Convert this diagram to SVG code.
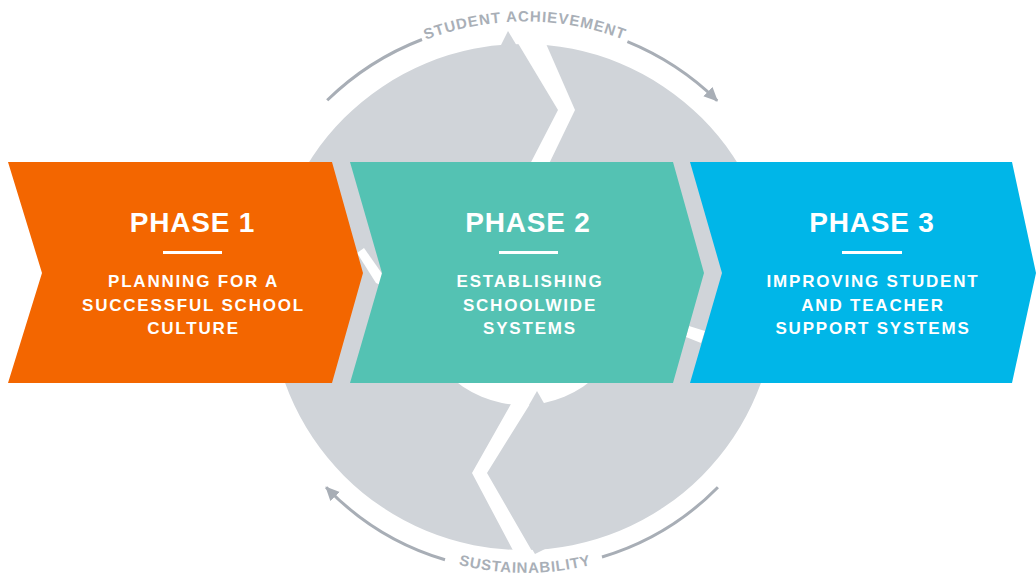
<svg xmlns="http://www.w3.org/2000/svg" width="1036" height="574" viewBox="0 0 1036 574">
<style>
.ring{fill:#D0D4D9}
.gap{fill:#FFFFFF}
.arc{fill:none;stroke:#A8AEB6;stroke-width:3}
.arclabel{font-family:"Liberation Sans",Arial,sans-serif;font-weight:bold;font-size:15px;fill:#A9AFB7;letter-spacing:1px}
.title{font-family:"Liberation Sans",Arial,sans-serif;font-weight:bold;font-size:28px;fill:#FFFFFF;letter-spacing:0.8px;text-anchor:middle}
.sub{font-family:"Liberation Sans",Arial,sans-serif;font-weight:bold;font-size:17px;fill:#FFFFFF;letter-spacing:1.8px;text-anchor:middle}
.rule{fill:#FFFFFF}
</style>
<defs>
<marker id="head" markerUnits="userSpaceOnUse" markerWidth="16" markerHeight="14" refX="13" refY="6.5" orient="auto">
<path d="M0,0 L14,6.5 L0,13 Z" fill="#A8AEB6"/>
</marker>
<path id="topPath" d="M263,204.6 A279,279 0 0 1 787,204.6"/>
<path id="botPath" d="M268.5,393.4 A273,273 0 0 0 781.5,393.4"/>
</defs>
<rect width="1036" height="574" fill="#FFFFFF"/>
<g id="cycle">
<path class="ring" fill-rule="evenodd" d="M270,297 A253,253 0 1 0 776,297 A253,253 0 1 0 270,297 Z M415,297 A108,108 0 1 0 631,297 A108,108 0 1 0 415,297 Z"/>
<polygon class="gap" points="510,30 558,110 528,168 547,168 575,110 540,30"/>
<polygon class="ring" points="500,47 508,31 517,46"/>
<polygon class="gap" points="516,395 472,473 517,558 536,558 487,473 540,388"/>
<polygon class="ring" points="529,405 537,391 545,405"/>
<polygon class="ring" points="532,549 535,554 545,549"/>
<polygon class="gap" points="357,253 364,248 383,275 383,286 376,283"/>
<polygon class="gap" points="689,326 705,331 701,343 686,337"/>
</g>
<g id="connectors">
<path class="arc" d="M327.2,100.3 A279,279 0 0 1 422,39.5"/>
<path class="arc" d="M627.4,41.7 A279,279 0 0 1 717.2,100.7" marker-end="url(#head)"/>
<path class="arc" d="M445,559.8 A271,271 0 0 1 326.1,487.2" marker-end="url(#head)"/>
<path class="arc" d="M602,557 A271,271 0 0 0 717.9,487.2"/>
</g>
<g id="cycle-labels">
<text class="arclabel"><textPath href="#topPath" startOffset="50%" text-anchor="middle">STUDENT ACHIEVEMENT</textPath></text>
<text class="arclabel" style="letter-spacing:0.8px"><textPath href="#botPath" startOffset="50%" text-anchor="middle">SUSTAINABILITY</textPath></text>
</g>
<g id="phase1">
<polygon points="8,162 332,162 363,273 332,383 8,383 42,273" fill="#F36600"/>
<text class="title" x="192.5" y="232">PHASE 1</text>
<rect class="rule" x="163" y="251" width="59" height="3"/>
<text class="sub" x="193.5" y="287">PLANNING FOR A</text>
<text class="sub" x="193.5" y="311">SUCCESSFUL SCHOOL</text>
<text class="sub" x="193.5" y="334">CULTURE</text>
</g>
<g id="phase2">
<polygon points="350,162 673,162 704,273 673,383 350,383 382,273" fill="#54C2B3"/>
<text class="title" x="528" y="232">PHASE 2</text>
<rect class="rule" x="499" y="251" width="59" height="3"/>
<text class="sub" x="530" y="287">ESTABLISHING</text>
<text class="sub" x="530" y="311">SCHOOLWIDE</text>
<text class="sub" x="530" y="334">SYSTEMS</text>
</g>
<g id="phase3">
<polygon points="690,162 1012,162 1036,273 1012,383 690,383 722,273" fill="#00B6E8"/>
<text class="title" x="872" y="232">PHASE 3</text>
<rect class="rule" x="842" y="251" width="60" height="3"/>
<text class="sub" x="873" y="287">IMPROVING STUDENT</text>
<text class="sub" x="873" y="311">AND TEACHER</text>
<text class="sub" x="873" y="334">SUPPORT SYSTEMS</text>
</g>
</svg>
